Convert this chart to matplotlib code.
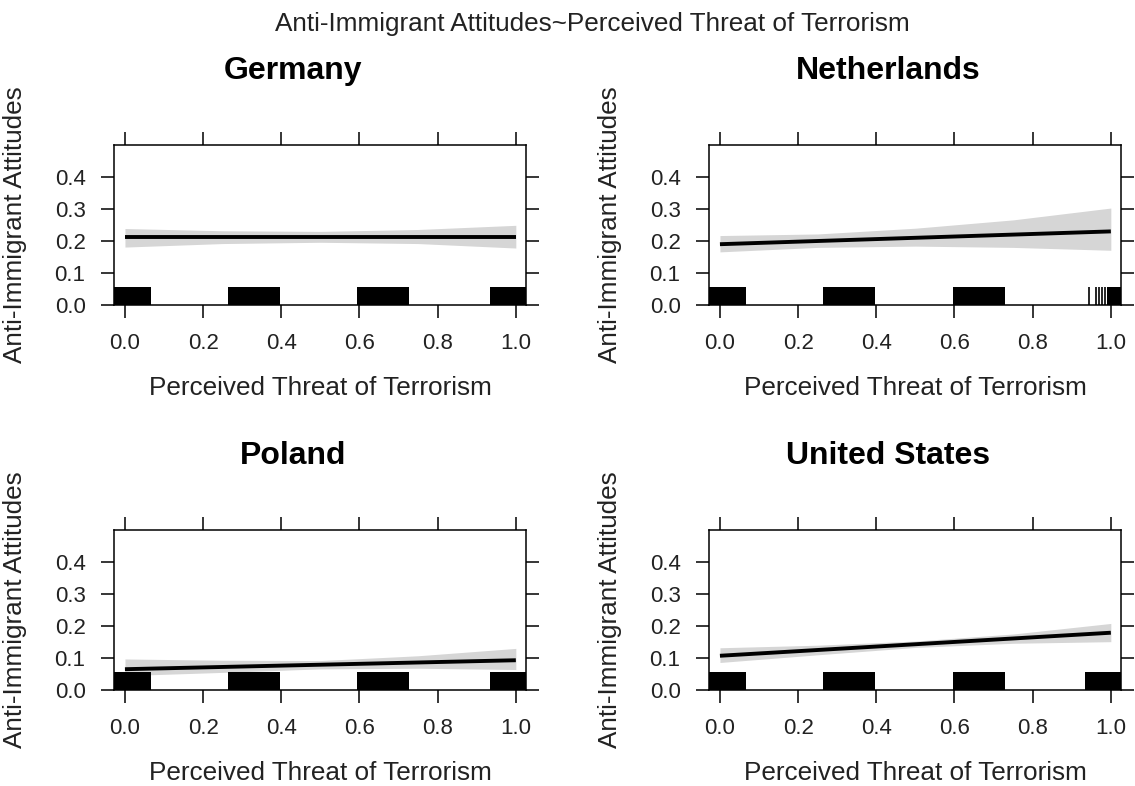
import matplotlib
matplotlib.use("Agg")
import matplotlib.pyplot as plt

plt.rcParams['font.family'] = ['Liberation Sans', 'DejaVu Sans']

W, H = 1135, 786

countries = ["Germany", "Netherlands", "Poland", "United States"]

# Effect estimates along the threat scale
threat = [0.0, 0.25, 0.5, 0.75, 1.0]
fit = {
    "Germany":       [0.213, 0.213, 0.213, 0.213, 0.213],
    "Netherlands":   [0.190, 0.200, 0.210, 0.220, 0.230],
    "Poland":        [0.065, 0.072, 0.079, 0.086, 0.093],
    "United States": [0.107, 0.125, 0.143, 0.161, 0.179],
}
lower = {
    "Germany":       [0.181, 0.192, 0.196, 0.192, 0.178],
    "Netherlands":   [0.166, 0.180, 0.184, 0.180, 0.171],
    "Poland":        [0.045, 0.055, 0.066, 0.068, 0.064],
    "United States": [0.086, 0.110, 0.133, 0.146, 0.151],
}
upper = {
    "Germany":       [0.239, 0.232, 0.230, 0.236, 0.249],
    "Netherlands":   [0.217, 0.222, 0.240, 0.266, 0.303],
    "Poland":        [0.097, 0.093, 0.092, 0.107, 0.130],
    "United States": [0.132, 0.140, 0.153, 0.175, 0.208],
}

# Rug of observed (jittered) threat values: solid spans and isolated marks
rug_spans = {
    "Germany":       [(-0.067, 0.133), (0.263, 0.133), (0.593, 0.133), (0.934, 0.133)],
    "Netherlands":   [(-0.067, 0.133), (0.264, 0.133), (0.595, 0.133), (0.990, 0.080)],
    "Poland":        [(-0.067, 0.133), (0.263, 0.133), (0.593, 0.133), (0.934, 0.133)],
    "United States": [(-0.067, 0.133), (0.264, 0.133), (0.595, 0.133), (0.934, 0.133)],
}
rug_marks = {
    "Germany": [],
    "Netherlands": [0.943, 0.963, 0.970, 0.977, 0.984],
    "Poland": [],
    "United States": [],
}
rug_height = 0.056

xticks = [0.0, 0.2, 0.4, 0.6, 0.8, 1.0]
yticks = [0.0, 0.1, 0.2, 0.3, 0.4]

main_title = "Anti-Immigrant Attitudes~Perceived Threat of Terrorism"
xlabel = "Perceived Threat of Terrorism"
ylabel = "Anti-Immigrant Attitudes"

# panel boxes in pixels: (left, top, right, bottom)
boxes = [(114, 145, 526, 305), (709, 145, 1121, 305),
         (114, 530, 526, 690), (709, 530, 1121, 690)]

fig = plt.figure(figsize=(W / 100, H / 100), dpi=100)
fig.patch.set_facecolor("white")

fig.text(592 / W, 1 - 31 / H, main_title, ha="center", va="baseline",
         fontsize=18.8, color="#222222")

for name, (x0, y0, x1, y1) in zip(countries, boxes):
    ax = fig.add_axes([x0 / W, 1 - y1 / H, (x1 - x0) / W, (y1 - y0) / H])
    ax.fill_between(threat, lower[name], upper[name], color="#d6d6d6",
                    linewidth=0, zorder=1)
    ax.plot(threat, fit[name], color="black", linewidth=2.8,
            solid_capstyle="butt", zorder=3)
    ax.broken_barh(rug_spans[name], (0, rug_height), facecolor="black",
                   edgecolor="none", zorder=2)
    if rug_marks[name]:
        ax.vlines(rug_marks[name], 0, rug_height, color="black",
                  linewidth=1.2, zorder=2)

    ax.set_xlim(-0.028, 1.026)
    ax.set_ylim(0, 0.5)
    ax.set_xticks(xticks)
    ax.set_yticks(yticks)
    ax.set_xticklabels([f"{t:.1f}" for t in xticks])
    ax.set_yticklabels([f"{t:.1f}" for t in yticks])
    ax.tick_params(direction="out", length=9.5, width=1.1, top=True,
                   right=True, labelsize=16, pad=11, colors="black",
                   labelcolor="#222222")
    for s in ax.spines.values():
        s.set_linewidth(1.1)

    cx = (x0 + x1) / 2
    fig.text((cx - 27) / W, 1 - (y0 - 66) / H, name, ha="center",
             va="baseline", fontsize=23, fontweight="bold", color="black")
    fig.text(cx / W, 1 - (y1 + 90) / H, xlabel, ha="center",
             va="baseline", fontsize=18.8, color="#222222")
    fig.text((x0 - 99) / W, 1 - ((y0 + y1) / 2) / H, ylabel, ha="center",
             va="center", rotation=90, fontsize=18.8, color="#222222")

fig.savefig("out.png", dpi=100, facecolor="white")
